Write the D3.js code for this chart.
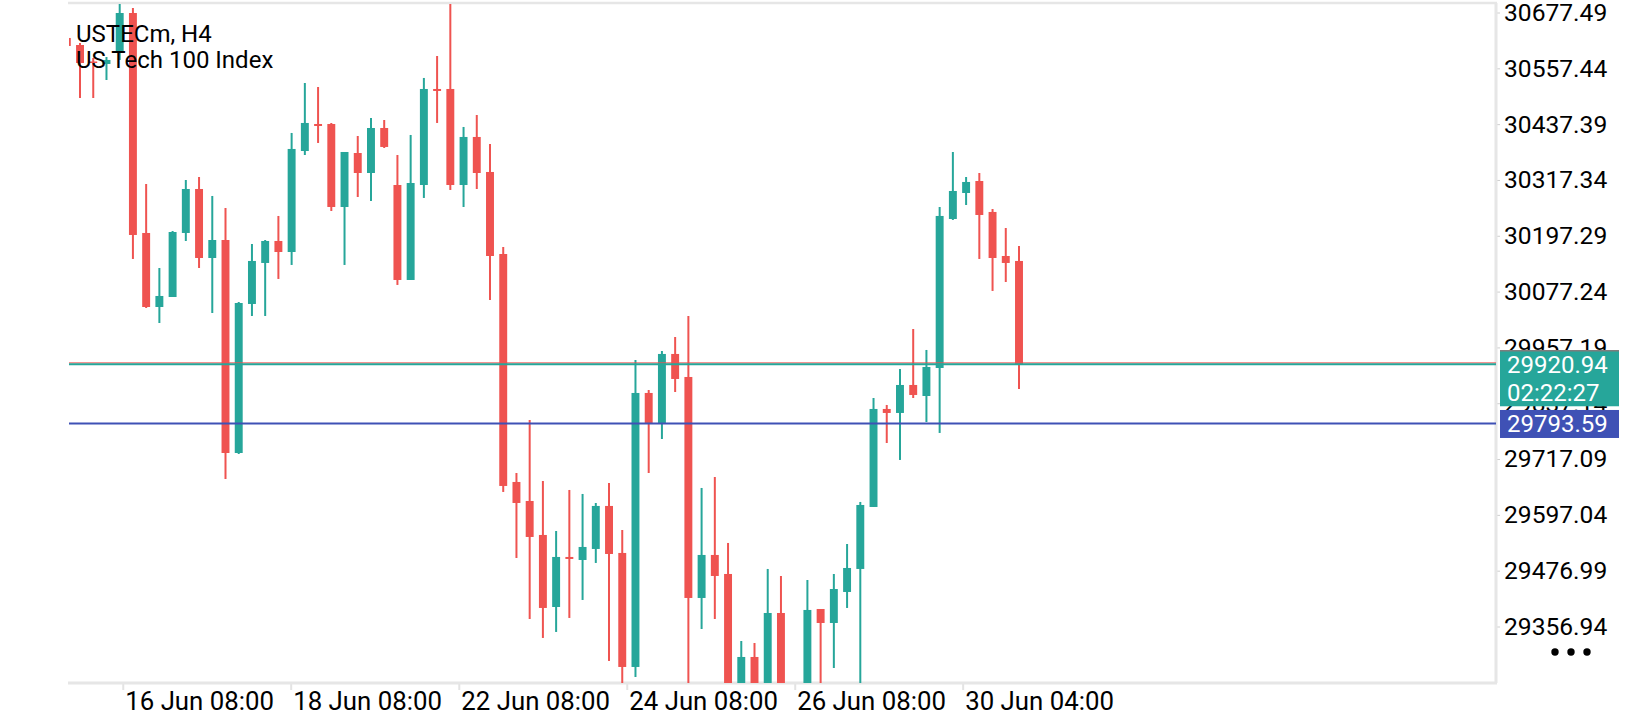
<!DOCTYPE html>
<html>
<head>
<meta charset="utf-8">
<script src="https://cdn.jsdelivr.net/npm/d3@7"></script>
<style>
html, body { margin: 0; padding: 0; background: #fff; }
svg { display: block; font-family: Roboto, "Noto Sans", sans-serif; }
</style>
</head>
<body>
<div id="chart"></div>
<script>
// chart data (H4 bars, oldest first)
var symbolName = "USTECm, H4";
var symbolDesc = "US Tech 100 Index";

var opens = [30622.7, 30607.6, 30572.1, 30566.8, 30592.6, 30676.4, 30203.3, 30044.1, 30065.6, 30203.3,
	30297.9, 30149.5, 30188.2, 29730.1, 30050.6, 30138.8, 30186.1, 30162.4, 30379.6, 30437.7,
	30437.7, 30259.2, 30375.3, 30332.3, 30429.1, 30306.5, 30102.2, 30306.5, 30513.0, 30513.0,
	30306.5, 30409.8, 30334.5, 30158.1, 29667.8, 29626.9, 29553.8, 29398.9, 29506.5, 29500.0,
	29523.7, 29616.2, 29515.1, 29269.9, 29859.2, 29794.7, 29943.1, 29893.6, 29418.3, 29510.8,
	29469.9, 29209.7, 29291.4, 29209.7, 29386.0, 29166.7, 29198.9, 29394.6, 29364.5, 29431.2,
	29480.7, 29614.0, 29824.8, 29816.2, 29876.4, 29852.7, 29912.9, 30233.4, 30289.3, 30315.1,
	30248.5, 30153.8, 30143.1];
var highs = [30639.9, 30611.9, 30579.7, 30581.8, 30695.8, 30687.2, 30308.7, 30128.0, 30207.6, 30317.3,
	30323.7, 30282.9, 30257.1, 30054.9, 30179.6, 30188.2, 30239.9, 30418.4, 30525.9, 30517.3,
	30439.9, 30377.5, 30411.9, 30450.6, 30446.3, 30371.0, 30414.1, 30536.7, 30584.0, 30695.8,
	30431.3, 30457.1, 30394.7, 30173.2, 29687.1, 29801.1, 29669.9, 29562.4, 29650.6, 29642.0,
	29622.6, 29665.6, 29564.5, 29930.2, 29865.6, 29949.5, 29979.6, 30024.8, 29654.9, 29678.5,
	29536.6, 29325.8, 29321.5, 29480.7, 29465.6, 29224.7, 29457.0, 29394.6, 29469.9, 29534.4,
	29624.8, 29848.4, 29833.4, 29910.8, 29996.8, 29951.7, 30259.2, 30377.5, 30323.7, 30332.3,
	30254.9, 30214.0, 30175.3];
var lows = [30596.9, 30493.6, 30493.6, 30532.3, 30575.4, 30147.4, 30042.0, 30009.7, 30065.6, 30186.1,
	30128.0, 30031.2, 29674.2, 29728.0, 30024.8, 30024.8, 30104.4, 30134.5, 30371.0, 30396.9,
	30250.6, 30134.5, 30280.7, 30272.1, 30386.1, 30091.5, 30102.2, 30278.6, 30439.9, 30295.8,
	30259.2, 30297.9, 30059.2, 29646.3, 29504.3, 29373.1, 29332.3, 29345.2, 29375.3, 29414.0,
	29493.6, 29282.8, 29220.4, 29248.4, 29687.1, 29760.2, 29861.3, 29220.4, 29351.6, 29373.1,
	29198.9, 29198.9, 29198.9, 29198.9, 29198.9, 29134.4, 29188.2, 29220.4, 29267.7, 29396.8,
	29220.4, 29614.0, 29751.6, 29715.1, 29848.4, 29796.8, 29773.2, 30231.3, 30263.5, 30147.4,
	30078.6, 30097.9, 29867.8];
var closes = [30605.5, 30568.9, 30568.9, 30575.4, 30676.4, 30199.0, 30044.1, 30067.8, 30205.4, 30297.9,
	30149.5, 30188.2, 29730.1, 30052.7, 30143.1, 30186.1, 30162.4, 30384.0, 30439.9, 30433.4,
	30259.2, 30377.5, 30332.3, 30429.1, 30388.3, 30102.2, 30310.8, 30513.0, 30508.7, 30306.5,
	30409.8, 30332.3, 30153.8, 29659.2, 29622.6, 29549.5, 29396.8, 29506.5, 29502.2, 29528.0,
	29616.2, 29512.9, 29269.9, 29859.2, 29794.7, 29943.1, 29889.3, 29418.3, 29510.8, 29465.6,
	29220.4, 29291.4, 29216.1, 29386.0, 29216.1, 29209.7, 29392.5, 29364.5, 29437.6, 29482.8,
	29618.3, 29824.8, 29816.2, 29876.4, 29854.9, 29915.1, 30239.9, 30293.6, 30313.0, 30242.0,
	30149.5, 30138.8, 29920.94];

var priceTicks = [30677.49, 30557.44, 30437.39, 30317.34, 30197.29, 30077.24, 29957.19, 29837.14,
	29717.09, 29597.04, 29476.99, 29356.94];
var timeTickBars = [4.23, 16.93, 29.64, 42.34, 55.04, 67.74];
var timeTickLabels = ["16 Jun 08:00", "18 Jun 08:00", "22 Jun 08:00", "24 Jun 08:00", "26 Jun 08:00", "30 Jun 04:00"];

var bidPrice = 29920.94;
var askPrice = 29923.9;
var levelPrice = 29793.59;
var barCountdown = "02:22:27";

function init() {
	var w = 1640;
	var h = 720;
	var left = 69, right = 1496, top = 3, bottom = 683;
	var up = "#26a69a", down = "#ef5350", blue = "#3f51b5", frame = "#e6e6e6";

	var bars = opens.map(function(o, i) {
		return { i: i, open: o, high: highs[i], low: lows[i], close: closes[i] };
	});

	var xScale = d3.scaleLinear()
		.domain([0, bars.length - 1])
		.range([66.8, 1019]);
	var step = xScale(1) - xScale(0);

	var yScale = d3.scaleLinear()
		.domain([priceTicks[priceTicks.length - 1], priceTicks[0]])
		.range([626.5, 12.5]);

	var svg = d3.select("#chart")
		.append("svg")
		.attr("width", w)
		.attr("height", h);

	svg.append("clipPath").attr("id", "plot")
		.append("rect")
		.attr("x", left).attr("y", top)
		.attr("width", right - left).attr("height", bottom - top);

	// y axis on the right
	var yAxis = d3.axisRight(yScale)
		.tickValues(priceTicks)
		.tickSize(3)
		.tickPadding(4)
		.tickFormat(d3.format(".2f"));
	var gy = svg.append("g")
		.attr("transform", "translate(" + (right + 1) + ",0)")
		.call(yAxis);
	gy.select(".domain").remove();
	gy.selectAll(".tick line").attr("stroke", "#cfcfcf");
	gy.selectAll(".tick text")
		.attr("fill", "#000")
		.style("font-size", "24.6px")
		.style("font-family", "Roboto, sans-serif");

	// x axis along the bottom
	var xAxis = d3.axisBottom(xScale)
		.tickValues(timeTickBars)
		.tickSize(7)
		.tickFormat(function(d, i) { return timeTickLabels[i]; });
	var gx = svg.append("g")
		.attr("transform", "translate(0," + bottom + ")")
		.call(xAxis);
	gx.select(".domain").remove();
	gx.selectAll(".tick line").attr("stroke", "#e3e3e3").attr("stroke-width", 2);
	gx.selectAll(".tick text")
		.attr("fill", "#000")
		.attr("text-anchor", "start")
		.attr("x", 2)
		.attr("y", 27)
		.attr("dy", null)
		.style("font-size", "25.8px")
		.style("font-family", "Roboto, sans-serif");

	// frame
	svg.append("line").attr("x1", left - 1).attr("x2", right + 1).attr("y1", top).attr("y2", top)
		.attr("stroke", frame).attr("stroke-width", 2.5);
	svg.append("line").attr("x1", right).attr("x2", right).attr("y1", top).attr("y2", bottom)
		.attr("stroke", frame).attr("stroke-width", 3);
	svg.append("line").attr("x1", left - 1).attr("x2", right + 1).attr("y1", bottom).attr("y2", bottom)
		.attr("stroke", frame).attr("stroke-width", 3);

	var plot = svg.append("g").attr("clip-path", "url(#plot)");

	plot.selectAll("line.wick")
		.data(bars)
		.enter()
		.append("line")
		.attr("class", "wick")
		.attr("x1", function(d) { return xScale(d.i); })
		.attr("x2", function(d) { return xScale(d.i); })
		.attr("y1", function(d) { return yScale(d.high); })
		.attr("y2", function(d) { return yScale(d.low); })
		.attr("stroke", function(d) { return d.close >= d.open ? up : down; })
		.attr("stroke-width", 2);

	plot.selectAll("rect.body")
		.data(bars)
		.enter()
		.append("rect")
		.attr("class", "body")
		.attr("x", function(d) { return xScale(d.i) - step * 0.3; })
		.attr("width", step * 0.6)
		.attr("y", function(d) { return yScale(Math.max(d.open, d.close)); })
		.attr("height", function(d) {
			return Math.max(1.5, Math.abs(yScale(d.open) - yScale(d.close)));
		})
		.attr("fill", function(d) { return d.close >= d.open ? up : down; });

	// price lines
	plot.append("line")
		.attr("x1", left).attr("x2", right)
		.attr("y1", yScale(askPrice)).attr("y2", yScale(askPrice))
		.attr("stroke", down).attr("stroke-width", 1);
	plot.append("line")
		.attr("x1", left).attr("x2", right)
		.attr("y1", yScale(bidPrice)).attr("y2", yScale(bidPrice))
		.attr("stroke", up).attr("stroke-width", 2);
	plot.append("line")
		.attr("x1", left).attr("x2", right)
		.attr("y1", yScale(levelPrice)).attr("y2", yScale(levelPrice))
		.attr("stroke", blue).attr("stroke-width", 2);

	// price tags on the axis
	var bidY = yScale(bidPrice);
	svg.append("rect")
		.attr("x", right + 4).attr("y", bidY - 14)
		.attr("width", 119).attr("height", 56)
		.attr("fill", up);
	svg.append("line")
		.attr("x1", right + 4).attr("x2", right + 123)
		.attr("y1", bidY - 13.5).attr("y2", bidY - 13.5)
		.attr("stroke", "#7d7d7d").attr("stroke-width", 1.5);
	svg.append("text")
		.attr("x", right + 11).attr("y", bidY + 0.5)
		.attr("dy", "0.35em")
		.attr("fill", "#fff")
		.style("font-size", "24px")
		.text(bidPrice.toFixed(2));
	svg.append("text")
		.attr("x", right + 11).attr("y", bidY + 28)
		.attr("dy", "0.35em")
		.attr("fill", "#fff")
		.style("font-size", "24px")
		.text(barCountdown);

	var levelY = yScale(levelPrice);
	svg.append("rect")
		.attr("x", right + 4).attr("y", levelY - 13.5)
		.attr("width", 119).attr("height", 28)
		.attr("fill", blue);
	svg.append("text")
		.attr("x", right + 11).attr("y", levelY + 0.5)
		.attr("dy", "0.35em")
		.attr("fill", "#fff")
		.style("font-size", "24px")
		.text(levelPrice.toFixed(2));

	// title, drawn over the bars
	svg.append("text")
		.attr("x", 76).attr("y", 42)
		.attr("fill", "#000")
		.style("font-size", "24px")
		.text(symbolName);
	svg.append("text")
		.attr("x", 76).attr("y", 68)
		.attr("fill", "#000")
		.style("font-size", "24px")
		.text(symbolDesc);

	// menu dots
	svg.selectAll("circle.dot")
		.data([0, 1, 2])
		.enter()
		.append("circle")
		.attr("class", "dot")
		.attr("cx", function(d) { return 1555 + d * 16; })
		.attr("cy", 652)
		.attr("r", 3.7)
		.attr("fill", "#000");
}

window.onload = init;
</script>
</body>
</html>
